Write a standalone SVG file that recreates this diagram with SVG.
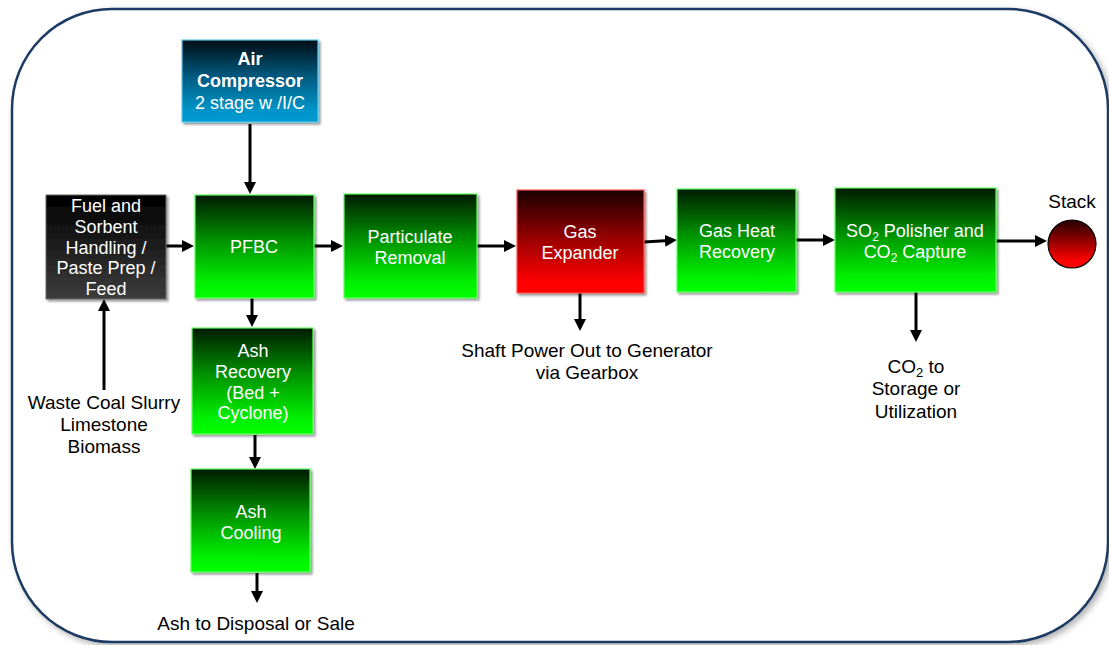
<svg xmlns="http://www.w3.org/2000/svg" width="1109" height="645" viewBox="0 0 1109 645">
<defs>
<linearGradient id="gGreen" x1="0" y1="0" x2="0" y2="1">
<stop offset="0" stop-color="#001a00"/>
<stop offset="0.45" stop-color="#009400"/>
<stop offset="0.85" stop-color="#00f000"/>
<stop offset="1" stop-color="#00ff00"/>
</linearGradient>
<linearGradient id="gRed" x1="0" y1="0" x2="0" y2="1">
<stop offset="0" stop-color="#1a0000"/>
<stop offset="0.5" stop-color="#a00000"/>
<stop offset="0.9" stop-color="#ff0000"/>
<stop offset="1" stop-color="#ff0000"/>
</linearGradient>
<linearGradient id="gBlue" x1="0" y1="0" x2="0" y2="1">
<stop offset="0" stop-color="#000d14"/>
<stop offset="0.45" stop-color="#005a80"/>
<stop offset="0.85" stop-color="#0094c8"/>
<stop offset="1" stop-color="#009ad0"/>
</linearGradient>
<linearGradient id="gDark" x1="0" y1="0" x2="0" y2="1">
<stop offset="0" stop-color="#000000"/>
<stop offset="1" stop-color="#3c3c3c"/>
</linearGradient>
<linearGradient id="gStack" x1="0" y1="0" x2="0" y2="1">
<stop offset="0" stop-color="#220000"/>
<stop offset="0.85" stop-color="#ff0000"/>
<stop offset="1" stop-color="#ff0000"/>
</linearGradient>
<filter id="fFrame" x="-5%" y="-5%" width="110%" height="110%">
<feDropShadow dx="3" dy="3" stdDeviation="3" flood-color="#000" flood-opacity="0.3"/>
</filter>
<filter id="fBox" x="-10%" y="-10%" width="120%" height="120%">
<feDropShadow dx="2" dy="2" stdDeviation="0.8" flood-color="#000" flood-opacity="0.4"/>
</filter>
<marker id="ah" markerUnits="userSpaceOnUse" markerWidth="12" markerHeight="12" viewBox="0 0 12 12" refX="4" refY="6" orient="auto">
<path d="M0,0 L12,6 L0,12 z" fill="#000"/>
</marker>
<style>
.lbl{font-family:"Liberation Sans",Arial,sans-serif;font-size:18px;fill:#fff;text-anchor:middle}
.bold{font-weight:bold}
.out{font-family:"Liberation Sans",Arial,sans-serif;font-size:19px;fill:#000;text-anchor:middle}
.conn{stroke:#000;stroke-width:3;fill:none;marker-end:url(#ah)}
.green{fill:url(#gGreen);stroke:#5cff5c;stroke-width:1.2}
</style>
</defs>
<rect x="12" y="9" width="1096" height="633" rx="100" ry="100" fill="#fff" stroke="#1f3a64" stroke-width="2.5" filter="url(#fFrame)"/>

<g id="connectors">
<line class="conn" x1="250" y1="124" x2="250" y2="186"/>
<line class="conn" x1="166" y1="246" x2="186" y2="246"/>
<line class="conn" x1="314" y1="246" x2="335" y2="246"/>
<line class="conn" x1="477" y1="246" x2="508" y2="246"/>
<line class="conn" x1="644" y1="242" x2="669" y2="240.5"/>
<line class="conn" x1="796" y1="240" x2="827" y2="240"/>
<line class="conn" x1="996" y1="241" x2="1039" y2="241"/>
<line class="conn" x1="252" y1="298" x2="252" y2="319"/>
<line class="conn" x1="255" y1="435" x2="255" y2="461"/>
<line class="conn" x1="257" y1="573" x2="257" y2="595"/>
<line class="conn" x1="104" y1="390" x2="104" y2="307"/>
<line class="conn" x1="580" y1="293" x2="580" y2="323"/>
<line class="conn" x1="916" y1="292" x2="916" y2="334"/>
</g>

<g id="air-compressor">
<rect x="182" y="40" width="136" height="82" fill="url(#gBlue)" stroke="#55c8ee" stroke-width="1.2" filter="url(#fBox)"/>
<text class="lbl bold" x="250" y="65">Air</text>
<text class="lbl bold" x="250" y="87">Compressor</text>
<text class="lbl" x="250" y="109">2 stage w /I/C</text>
</g>

<g id="fuel-handling">
<rect x="46" y="195" width="120" height="104" fill="url(#gDark)" stroke="#666" stroke-width="1" filter="url(#fBox)"/>
<text class="lbl" x="106" y="212">Fuel and</text>
<text class="lbl" x="106" y="233">Sorbent</text>
<text class="lbl" x="106" y="254">Handling /</text>
<text class="lbl" x="106" y="274">Paste Prep /</text>
<text class="lbl" x="106" y="295">Feed</text>
</g>

<g id="pfbc">
<rect class="green" x="195" y="195" width="119" height="103" filter="url(#fBox)"/>
<text class="lbl" x="254" y="253">PFBC</text>
</g>

<g id="particulate-removal">
<rect class="green" x="344" y="194" width="133" height="104" filter="url(#fBox)"/>
<text class="lbl" x="410" y="243">Particulate</text>
<text class="lbl" x="410" y="264">Removal</text>
</g>

<g id="gas-expander">
<rect x="517" y="190" width="127" height="103" fill="url(#gRed)" stroke="#ff5050" stroke-width="1.2" filter="url(#fBox)"/>
<text class="lbl" x="580" y="238">Gas</text>
<text class="lbl" x="580" y="259">Expander</text>
</g>

<g id="gas-heat-recovery">
<rect class="green" x="677" y="189" width="119" height="103" filter="url(#fBox)"/>
<text class="lbl" x="737" y="237">Gas Heat</text>
<text class="lbl" x="737" y="258">Recovery</text>
</g>

<g id="so2-polisher">
<rect class="green" x="835" y="188" width="161" height="104" filter="url(#fBox)"/>
<text class="lbl" x="915" y="237">SO<tspan font-size="12" dy="4">2</tspan><tspan dy="-4"> Polisher and</tspan></text>
<text class="lbl" x="915" y="258">CO<tspan font-size="12" dy="4">2</tspan><tspan dy="-4"> Capture</tspan></text>
</g>

<g id="stack">
<text class="out" x="1072" y="208">Stack</text>
<circle cx="1072" cy="244" r="24" fill="url(#gStack)" stroke="#000" stroke-width="1.2"/>
</g>

<g id="ash-recovery">
<rect class="green" x="192" y="328" width="121" height="106" filter="url(#fBox)"/>
<text class="lbl" x="253" y="357">Ash</text>
<text class="lbl" x="253" y="378">Recovery</text>
<text class="lbl" x="253" y="399">(Bed +</text>
<text class="lbl" x="253" y="419">Cyclone)</text>
</g>

<g id="ash-cooling">
<rect class="green" x="191" y="469" width="119" height="103" filter="url(#fBox)"/>
<text class="lbl" x="251" y="518">Ash</text>
<text class="lbl" x="251" y="539">Cooling</text>
</g>

<g id="waste-coal">
<text class="out" x="104" y="409">Waste Coal Slurry</text>
<text class="out" x="104" y="431">Limestone</text>
<text class="out" x="104" y="453">Biomass</text>
</g>

<g id="shaft-power">
<text class="out" x="587" y="357">Shaft Power Out to Generator</text>
<text class="out" x="587" y="379">via Gearbox</text>
</g>

<g id="co2-out">
<text class="out" x="916" y="373">CO<tspan font-size="13" dy="4">2</tspan><tspan dy="-4"> to</tspan></text>
<text class="out" x="916" y="395">Storage or</text>
<text class="out" x="916" y="418">Utilization</text>
</g>

<g id="ash-out">
<text class="out" x="256" y="630">Ash to Disposal or Sale</text>
</g>
</svg>
